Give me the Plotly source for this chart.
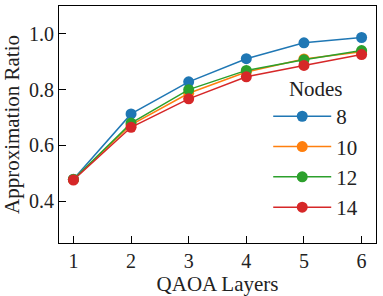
import plotly.graph_objects as go

layers = [1, 2, 3, 4, 5, 6]
nodes = ["8", "10", "12", "14"]
ratio_8 = [0.479, 0.713, 0.828, 0.911, 0.968, 0.987]
ratio_10 = [0.478, 0.674, 0.787, 0.863, 0.910, 0.936]
ratio_12 = [0.478, 0.680, 0.800, 0.869, 0.907, 0.940]
ratio_14 = [0.476, 0.665, 0.767, 0.846, 0.887, 0.926]
series = [ratio_8, ratio_10, ratio_12, ratio_14]
colors = ["#1f77b4", "#ff7f0e", "#2ca02c", "#d62728"]

FONT = "Liberation Serif"

fig = go.Figure()
for name, vals, c in zip(nodes, series, colors):
    fig.add_trace(go.Scatter(
        x=layers, y=vals, name=name, mode="lines+markers",
        legendgroup=name,
        line=dict(color=c, width=1.5),
        marker=dict(color=c, size=11),
    ))

axis_common = dict(
    showline=True, linecolor="black", linewidth=1, mirror=True,
    ticks="inside", ticklen=7, tickwidth=1, tickcolor="black",
    showgrid=False, zeroline=False, automargin=False,
    tickfont=dict(family=FONT, size=20, color="#222"),
)

fig.update_layout(
    width=383, height=296,
    margin=dict(l=59, r=7, t=6, b=53),
    paper_bgcolor="white", plot_bgcolor="white",
    font=dict(family=FONT, size=20, color="#222"),
    xaxis=dict(range=[0.75, 6.25], tickvals=layers,
               title=dict(text="QAOA Layers", standoff=0, font=dict(family=FONT, size=21)),
               **axis_common),
    yaxis=dict(range=[0.25, 1.1], tickvals=[0.4, 0.6, 0.8, 1.0], tickformat=".1f",
               title=dict(text="Approximation Ratio", standoff=6, font=dict(family=FONT, size=21)),
               **axis_common),
    legend=dict(
        x=0.66, y=0.735, xanchor="left", yanchor="top",
        bgcolor="rgba(0,0,0,0)", borderwidth=0,
        title=dict(text="Nodes", side="top center", font=dict(family=FONT, size=21)),
        font=dict(family=FONT, size=21),
        tracegroupgap=0,
        itemwidth=58,
    ),
    showlegend=True,
)

fig.write_html("out.html", config={"displayModeBar": False},
               post_script="document.body.style.margin='0px';")
